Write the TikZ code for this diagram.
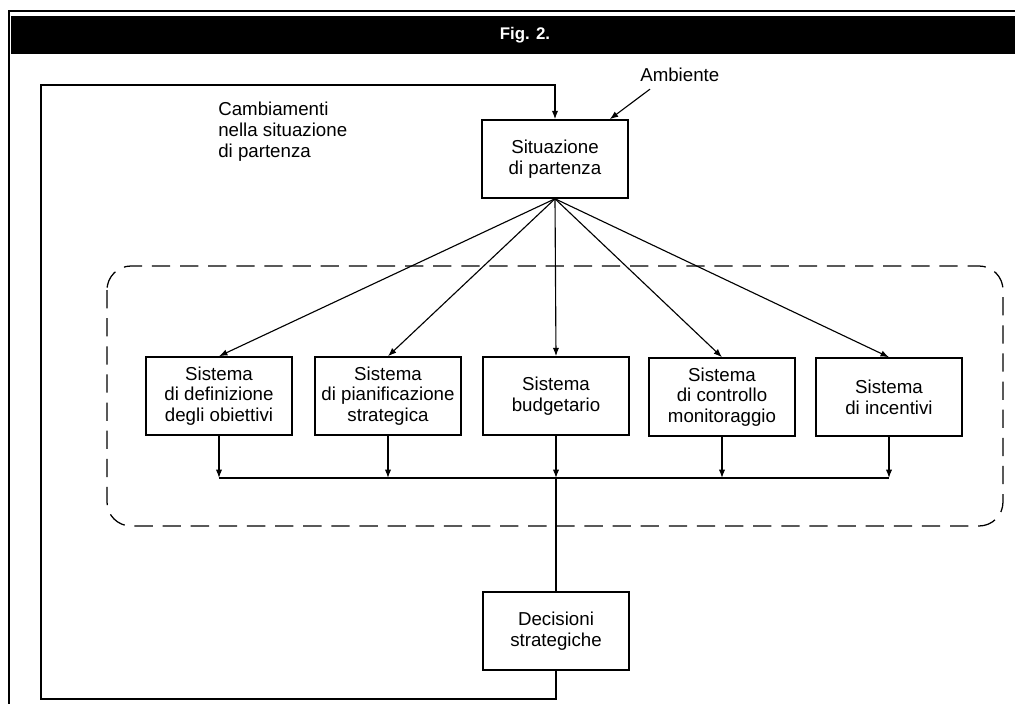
\documentclass[tikz,border=0pt]{standalone}
\usepackage{fontspec}
\setmainfont{Liberation Sans}
\usetikzlibrary{arrows.meta}

\begin{document}
\begin{tikzpicture}[x=0.025cm,y=-0.025cm,
  every node/.style={font=\fontsize{13.3}{14.8}\selectfont,align=center},
  box/.style={draw,line width=1.1pt,minimum width=3.65cm,minimum height=1.95cm,inner sep=0pt},
  arr/.style={-{Latex[length=6pt,width=4.5pt]},line width=0.8pt},
  lin/.style={line width=0.8pt},
  grp/.style={line width=0.9pt,dash pattern=on 13pt off 7pt,rounded corners=0.6cm}]
            \useasboundingbox (0,0) rectangle (1015,704);
            % title bar
            \fill (11,16) rectangle (1015,54);
            \draw[lin] (9,704) -- (9,11) -- (1015,11);
            \node[text=white,font=\bfseries\fontsize{12}{14}\selectfont] (fig) at (525,35) {Fig. 2.};
            % boxes
            \node[box] (sit) at (555,159) {Situazione\\di partenza};
            \node[anchor=west,inner sep=0pt] (amb) at (640,75) {Ambiente};
            \node[anchor=north west,align=left,inner sep=0pt] (camb) at (218,102) {Cambiamenti\\nella situazione\\di partenza};
            \node[box] (s1) at (219,396) {Sistema\\di definizione\\degli obiettivi};
            \node[box] (s2) at (388,396) {Sistema\\di pianificazione\\strategica};
            \node[box] (s3) at (556,396) {Sistema\\budgetario};
            \node[box] (s4) at (722,397) {Sistema\\di controllo\\monitoraggio};
            \node[box] (s5) at (889,397) {Sistema\\di incentivi};
            \node[box] (dec) at (556,631) {Decisioni\\strategiche};
            \coordinate (bus) at (0,478);
            \coordinate (lpbl) at (41,699);
            \coordinate (lptl) at (41,85);
            % group
            \draw[grp] (107,266) rectangle (1003,526);
              \foreach \i in {1,...,5} {
                \draw[arr] (sit.south) -- (s\i.north);
                \draw[arr] (s\i.south) -- (s\i.south |- bus);
              }
              \draw[lin] (s1.south |- bus) -- (s5.south |- bus);
              \draw[lin] (s3.south |- bus) -- (dec.north);
              \draw[arr] (dec.south) -- (dec.south |- lpbl) -- (lpbl) -- (lptl) -- (sit.north |- lptl) -- (sit.north);
              \draw[arr] ([shift={(10,7)}]amb.south west) -- ([shift={(-19,0)}]sit.north east);
            \end{tikzpicture}
\end{document}
